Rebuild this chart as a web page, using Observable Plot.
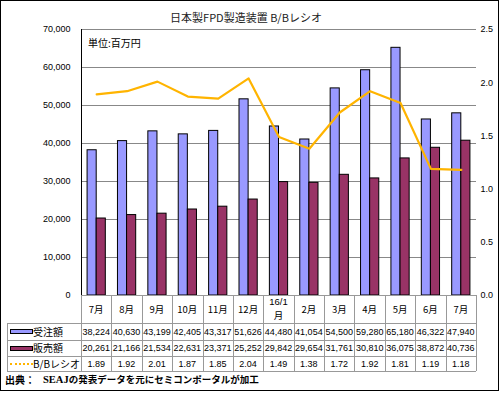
<!DOCTYPE html>
<html><head><meta charset="utf-8">
<script src="https://cdn.jsdelivr.net/npm/d3@7"></script>
<script src="https://cdn.jsdelivr.net/npm/@observablehq/plot@0.6"></script>
<style>
body{margin:0;background:#fff;}
#wrap{position:relative;width:500px;height:393px;overflow:hidden;background:#fff;}
#frame{position:absolute;left:0;top:0;width:499px;height:391px;border:1px solid #000;box-sizing:border-box;pointer-events:none}
.t{position:absolute;white-space:nowrap;line-height:1;color:#000;}
.j{font-family:"Noto Sans CJK JP","Noto Sans",sans-serif;}
.n{font-family:"Liberation Sans",Arial,sans-serif;}
.hl{position:absolute;height:0;border-top:1px solid #999;}
.vl{position:absolute;width:0;border-left:1px solid #999;}
svg{position:absolute;left:0;top:0;}
</style></head><body><div id="wrap"></div>
<script>
const title = "日本製FPD製造装置 B/Bレシオ";
const unit = "単位:百万円";
const sourceLabel = "出典：";
const sourceText = "SEAJの発表データを元にセミコンポータルが加工";
const months = ["7月","8月","9月","10月","11月","12月","16/1\n月","2月","3月","4月","5月","6月","7月"];
const orders = [38224,40630,43199,42405,43317,51626,44480,41054,54500,59280,65180,46322,47940];
const sales  = [20261,21166,21534,22631,23371,25252,29842,29654,31761,30810,36075,38872,40736];
const ratio  = [1.89,1.92,2.01,1.87,1.85,2.04,1.49,1.38,1.72,1.92,1.81,1.19,1.18];
const seriesNames = ["受注額","販売額","B/Bレシオ"];
const seriesColors = ["#9999ff","#993366","#ffb400"];
const leftTicks = [0,10000,20000,30000,40000,50000,60000,70000];
const rightTicks = [0,0.5,1.0,1.5,2.0,2.5];

const k = 70000/2.5; // right axis to left axis factor
const data = months.map((m,i)=>({i, m, order:orders[i], sale:sales[i], ratio:ratio[i]}));
const fmt = d3.format(",");

const plot = Plot.plot({
  width:500, height:393,
  marginLeft:81, marginRight:24, marginTop:29, marginBottom:98,
  style:{fontFamily:"Liberation Sans, Arial, sans-serif", fontSize:"9px", color:"#000", background:"transparent", overflow:"visible"},
  x:{domain:[0,13], axis:null},
  y:{domain:[0,70000], label:null},
  marks:[
    Plot.ruleY(leftTicks.slice(1),{stroke:"#888", strokeOpacity:1}),
    Plot.axisY(leftTicks,{anchor:"left", tickSize:0, tickPadding:11, tickFormat:fmt, label:null, fontSize:9}),
    Plot.axisY(rightTicks.map(v=>v*k),{anchor:"right", tickSize:0, tickPadding:4, tickFormat:d=>(d/k).toFixed(1), label:null, fontSize:9}),
    Plot.rectY(data,{x1:d=>d.i+0.2, x2:d=>d.i+0.5, y1:0, y2:"order", fill:seriesColors[0], stroke:"#000", strokeWidth:1}),
    Plot.rectY(data,{x1:d=>d.i+0.5, x2:d=>d.i+0.8, y1:0, y2:"sale", fill:seriesColors[1], stroke:"#000", strokeWidth:1}),
    Plot.line(data,{x:d=>d.i+0.5, y:d=>d.ratio*k, stroke:seriesColors[2], strokeWidth:2.2}),
    Plot.ruleX([0],{stroke:"#000"})
  ]
});

const wrap = document.getElementById("wrap");
wrap.appendChild(plot);
const sx = plot.scale("x").apply;

function addText(txt, cls, x, y, size, anchor, extra){
  const d = document.createElement("div");
  d.className = "t " + cls;
  d.textContent = txt;
  d.style.fontSize = size + "px";
  d.style.top = (y - size/2) + "px";
  if (anchor === "middle") { d.style.left = x + "px"; d.style.transform = "translateX(-50%)"; }
  else if (anchor === "end") { d.style.right = (500 - x) + "px"; }
  else d.style.left = x + "px";
  if (extra) Object.assign(d.style, extra);
  wrap.appendChild(d);
  return d;
}
function hline(x1,x2,y){const d=document.createElement("div");d.className="hl";d.style.left=x1+"px";d.style.width=(x2-x1)+"px";d.style.top=y+"px";wrap.appendChild(d);}
function vline(x,y1,y2){const d=document.createElement("div");d.className="vl";d.style.left=x+"px";d.style.height=(y2-y1)+"px";d.style.top=y1+"px";wrap.appendChild(d);}

addText(title,"j",246,17,11,"middle",{color:"#222"});
addText(unit,"j",88,43,10,"start");

// table
const rowY = [295,323,340,356,371];
const xl = 7, x0 = sx(0), xr = sx(13);
hline(x0, xr, rowY[0]);
for (let r=1;r<rowY.length;r++) hline(xl, xr, rowY[r]);
for (let i=0;i<=13;i++) vline(Math.round(sx(i)), rowY[0], rowY[4]);
vline(xl, rowY[1], rowY[4]);

months.forEach((m,i)=>{
  const cx = sx(i+0.5);
  const parts = m.split("\n");
  if (parts.length===1) addText(m,"j",cx,309.5,9.5,"middle");
  else { addText(parts[0],"n",cx,302,9.5,"middle"); addText(parts[1],"j",cx,316,9.5,"middle"); }
  addText(fmt(orders[i]),"n",cx,332,9,"middle");
  addText(fmt(sales[i]),"n",cx,348.5,9,"middle");
  addText(ratio[i].toFixed(2),"n",cx,364,9,"middle");
});
// legend keys
const keyRow = [331.5,348,363.5];
[0,1].forEach(s=>{
  const d=document.createElement("div");
  Object.assign(d.style,{position:"absolute",left:"10px",top:(keyRow[s]-2.5)+"px",width:"23px",height:"5px",background:seriesColors[s],border:"1px solid #000",boxSizing:"border-box"});
  wrap.appendChild(d);
});
{
  const d=document.createElement("div");
  Object.assign(d.style,{position:"absolute",left:"10px",top:(keyRow[2]-1)+"px",width:"23px",height:"0",borderTop:"2px dotted "+seriesColors[2]});
  wrap.appendChild(d);
}
seriesNames.forEach((s,j)=>addText(s,"j",33,keyRow[j],10,"start"));

addText(sourceLabel,"j",5,380,10,"start",{fontWeight:"bold"});
{
  const d = addText("","j",43,380,9.5,"start",{fontWeight:"bold"});
  const s1 = document.createElement("span");
  s1.textContent = sourceText.slice(0,4);
  s1.style.fontFamily = '"Liberation Serif","DejaVu Serif",serif';
  s1.style.fontSize = "10.5px";
  const s2 = document.createElement("span");
  s2.textContent = sourceText.slice(4);
  d.appendChild(s1); d.appendChild(s2);
}

const fr=document.createElement("div");fr.id="frame";wrap.appendChild(fr);
</script></body></html>
